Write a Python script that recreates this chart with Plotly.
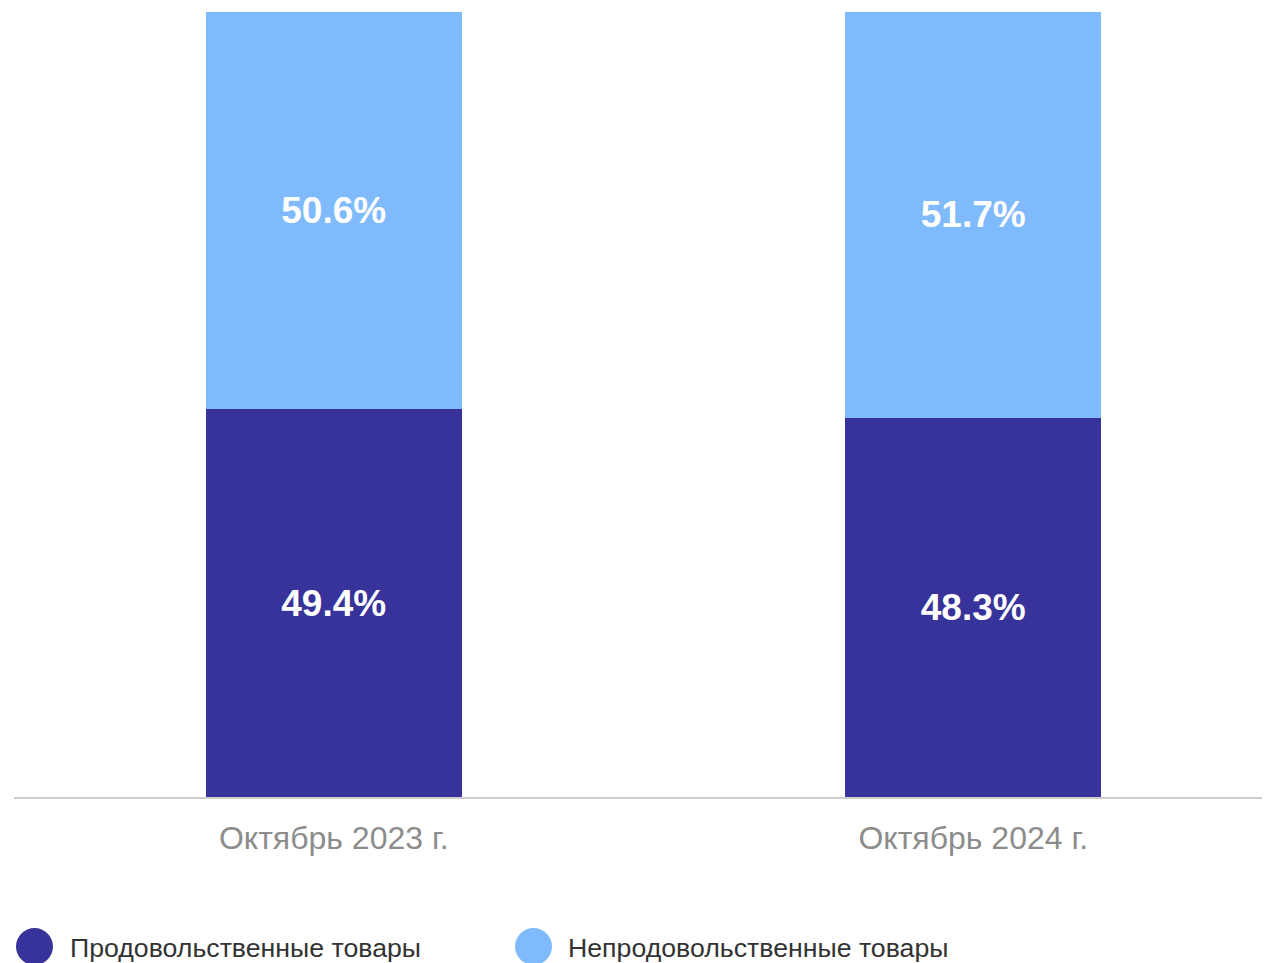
import plotly.graph_objects as go

categories = ["Октябрь 2023 г.", "Октябрь 2024 г."]
series_names = ["Продовольственные товары", "Непродовольственные товары"]
food = [49.4, 48.3]
nonfood = [50.6, 51.7]
colors = ["#37339A", "#7FBBFC"]

OFF = 8  # page body margin
W, H = 1270 - OFF, 963 - OFF
L, R, T, B = 14 - OFF, 0, 12 - OFF, 166
pw = W - L - R
ph = H - T - B
bottom_px = 797  # screen pixel of plot bottom

def px_x(p):
    return (p - 14) / pw

def px_y(p):
    return (bottom_px - p) / ph

fig = go.Figure()
for name, vals, col in [(series_names[0], food, colors[0]), (series_names[1], nonfood, colors[1])]:
    fig.add_trace(go.Bar(
        x=list(range(len(categories))), y=vals, name=name,
        marker=dict(color=col, line=dict(width=0)),
        width=0.40,
        text=[f"{v:.1f}%" for v in vals],
        textposition="inside", insidetextanchor="middle",
        textfont=dict(family="Liberation Sans, Arial", size=37, color="white", weight="bold"),
        showlegend=False,
    ))

legend_items = [(16, 68), (515, 566)]
shapes = []
annotations = []
for (cx, tx), name, col in zip(legend_items, series_names, colors):
    shapes.append(dict(type="circle", xref="paper", yref="paper",
                       x0=px_x(cx), x1=px_x(cx + 37), y0=px_y(928 + 37), y1=px_y(928),
                       fillcolor=col, line=dict(width=0)))
    annotations.append(dict(text=name, xref="paper", yref="paper",
                            x=px_x(tx), y=px_y(948), xanchor="left", yanchor="middle",
                            showarrow=False,
                            font=dict(family="Liberation Sans, Arial", size=26.7, color="#333333")))

fig.update_layout(
    width=W, height=H,
    margin=dict(l=L, r=R, t=T, b=B, pad=0),
    barmode="stack",
    plot_bgcolor="white", paper_bgcolor="white",
    shapes=shapes, annotations=annotations,
)
fig.update_xaxes(
    range=[-0.5, -0.5 + pw / 639.5],
    tickvals=list(range(len(categories))), ticktext=categories,
    tickfont=dict(family="Liberation Sans, Arial", size=32, color="#8C8C8C"),
    showline=True, linecolor="#CCCCCC", linewidth=2,
    showgrid=False, zeroline=False, ticks="", ticklabelstandoff=12,
)
fig.update_yaxes(range=[0, 100], visible=False, showgrid=False, zeroline=False)

fig.write_html("out.html")
